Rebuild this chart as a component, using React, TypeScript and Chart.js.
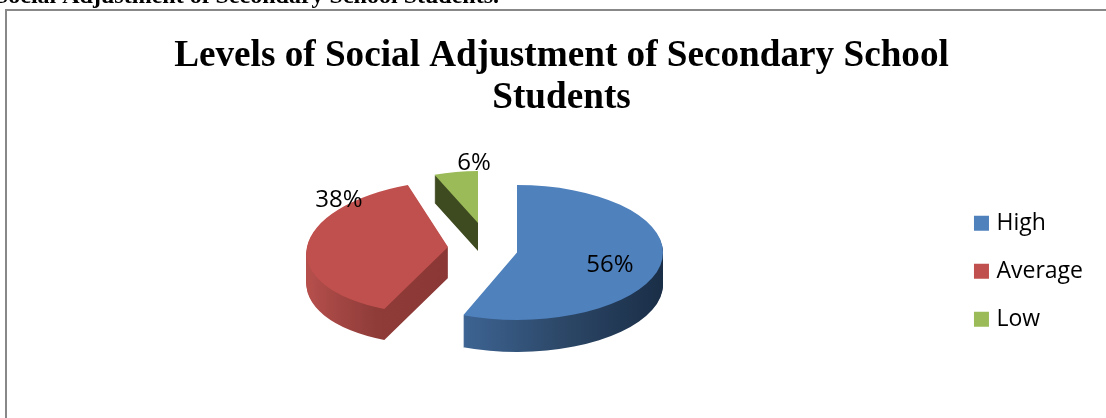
import React, { useEffect, useRef } from "react";
import { Chart, registerables } from "chart.js";

Chart.register(...registerables);

const categories = ["High", "Average", "Low"];
const values = [56, 38, 6];
const topColors = ["#4f81bd", "#c0504d", "#9bbb59"];
const titleLines = ["Levels of Social Adjustment of Secondary School", "Students"];
const captionText = "Social Adjustment of Secondary School Students.";

// Per-slice look of the exploded 3D pie (styles, not data)
const RADIUS = 146;
const slicePlacement = [
  { cx: 517, cy: 252.5, sx: 1, sy: 0.462, skew: 0, depth: 32, labelDx: 93, labelDy: 13 },
  { cx: 448, cy: 247, sx: 0.966, sy: 0.456, skew: -0.19, depth: 31, labelDx: -109, labelDy: -47 },
  { cx: 478, cy: 223, sx: 0.81, sy: 0.356, skew: 0, depth: 28, labelDx: -4, labelDy: -60 },
];
const sideStops = [
  { from: -54, to: 146, stops: [[0, "#3d6493"], [0.5, "#2c4767"], [1, "#1a2e47"]] },
  { from: -141, to: 0, stops: [[0, "#b54f4c"], [0.55, "#8f3c39"], [1, "#8a3735"]] },
  { from: -54, to: 0, stops: [[0, "#3e4a20"], [1, "#3e4a20"]] },
];

const paperPlugin = {
  id: "paper",
  beforeDraw(chart: any) {
    const { ctx, width, height } = chart;
    ctx.save();
    ctx.fillStyle = "#ffffff";
    ctx.fillRect(0, 0, width, height);
    ctx.strokeStyle = "#888888";
    ctx.lineWidth = 2;
    ctx.beginPath();
    ctx.moveTo(6, height);
    ctx.lineTo(6, 10);
    ctx.lineTo(width, 10);
    ctx.stroke();
    ctx.fillStyle = "#000000";
    ctx.font = "bold 24px 'Liberation Serif'";
    ctx.textAlign = "right";
    ctx.textBaseline = "alphabetic";
    ctx.fillText(captionText, 499, 3);
    ctx.restore();
  },
};

function placeSlice(ctx: any, arc: any, p: any, lift: number) {
  ctx.translate(p.cx, p.cy + lift);
  ctx.transform(1, 0, p.skew, 1, 0, 0);
  ctx.scale(p.sx, p.sy);
  ctx.translate(-arc.x, -arc.y);
}

const pie3dPlugin = {
  id: "pie3d",
  beforeDatasetsDraw(chart: any) {
    const { ctx } = chart;
    const arcs = chart.getDatasetMeta(0).data;
    arcs.forEach((arc: any, i: number) => {
      const p = slicePlacement[i];
      const side = sideStops[i];
      const grad = ctx.createLinearGradient(arc.x + side.from, 0, arc.x + side.to, 0);
      side.stops.forEach(([o, c]: any) => grad.addColorStop(o, c));
      const base = arc.options;
      arc.options = Object.assign(Object.create(base), { backgroundColor: grad });
      for (let d = p.depth; d >= 1; d--) {
        ctx.save();
        placeSlice(ctx, arc, p, d);
        arc.draw(ctx);
        ctx.restore();
      }
      arc.options = base;
    });
    arcs.forEach((arc: any, i: number) => {
      ctx.save();
      placeSlice(ctx, arc, slicePlacement[i], 0);
      arc.draw(ctx);
      ctx.restore();
    });
    ctx.save();
    ctx.fillStyle = "#000000";
    ctx.font = "24px 'Open Sans'";
    ctx.textAlign = "center";
    ctx.textBaseline = "middle";
    values.forEach((v, i) => {
      const p = slicePlacement[i];
      ctx.fillText(`${v}%`, p.cx + p.labelDx, p.cy + p.labelDy);
    });
    ctx.restore();
    return false;
  },
};

export default function App() {
  const ref = useRef<HTMLCanvasElement>(null);
  useEffect(() => {
    const chart = new Chart(ref.current as HTMLCanvasElement, {
      type: "pie",
      data: {
        labels: categories,
        datasets: [{ data: values, backgroundColor: topColors, borderWidth: 0 }],
      },
      options: {
        responsive: false,
        animation: false,
        radius: RADIUS,
        events: [],
        layout: { padding: { left: 30, right: 13, top: 0, bottom: 0 } },
        plugins: {
          tooltip: { enabled: false },
          title: {
            display: true,
            text: titleLines,
            color: "#000000",
            font: { family: "'Liberation Serif'", size: 37.2, weight: "bold", lineHeight: 1.135 },
            padding: { top: 35, bottom: 5 },
          },
          legend: {
            position: "right",
            fullSize: false,
            labels: {
              usePointStyle: true,
              pointStyle: "rect",
              boxWidth: 7,
              boxHeight: 15,
              padding: 25,
              color: "#000000",
              font: { family: "'Open Sans'", size: 23 },
            },
          },
        },
      } as any,
      plugins: [paperPlugin, pie3dPlugin] as any,
    });
    return () => chart.destroy();
  }, []);
  return (
    <canvas
      ref={ref}
      width={1106}
      height={418}
      style={{ position: "absolute", left: 0, top: 0, display: "block" }}
    />
  );
}
